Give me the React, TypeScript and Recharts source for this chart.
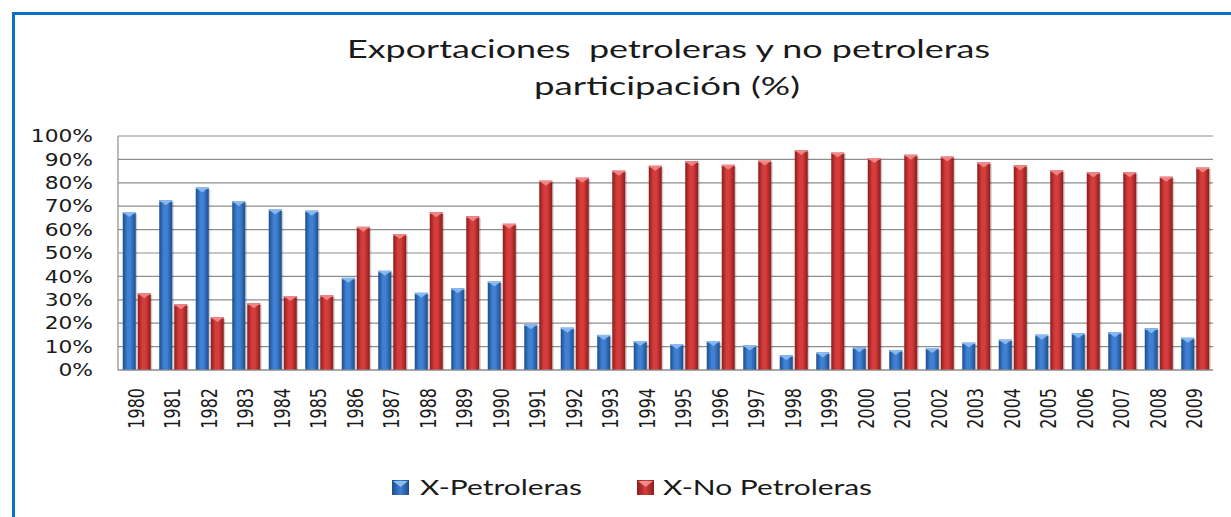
import { BarChart, Bar, XAxis, YAxis, CartesianGrid } from "recharts";

const years = [
  "1980", "1981", "1982", "1983", "1984", "1985", "1986", "1987", "1988", "1989",
  "1990", "1991", "1992", "1993", "1994", "1995", "1996", "1997", "1998", "1999",
  "2000", "2001", "2002", "2003", "2004", "2005", "2006", "2007", "2008", "2009",
];

const petroleras = [
  67.5, 72.5, 78, 72.2, 68.6, 68.1, 39.4, 42.4, 33, 34.9,
  37.8, 19.5, 18.1, 15, 12.4, 11.1, 12.4, 10.5, 6.3, 7.5,
  9.7, 8.5, 9.4, 11.7, 13, 15.1, 15.7, 16.1, 17.8, 13.8,
];

const noPetroleras = [
  32.8, 28.1, 22.6, 28.5, 31.6, 31.9, 61.2, 58.1, 67.4, 65.7,
  62.5, 80.9, 82.2, 85.2, 87.3, 89.2, 87.7, 89.5, 94, 92.9,
  90.6, 92, 91.2, 88.7, 87.5, 85.3, 84.5, 84.5, 82.6, 86.5,
];

const yTicks = [0, 10, 20, 30, 40, 50, 60, 70, 80, 90, 100];

const titleLines = ["Exportaciones  petroleras y no petroleras", "participación (%)"];
const seriesNames = ["X-Petroleras", "X-No Petroleras"];

const data = years.map((year, i) => ({
  year,
  pet: petroleras[i],
  noPet: noPetroleras[i],
}));

const W = 1231;
const H = 517;
const STRETCH = 1.28; // the reference is drawn wider than tall

const palette = {
  blue: { dark: "#1d4c8c", mid: "#3f80d2", cap: "#8cbdf2" },
  red: { dark: "#8c1c1c", mid: "#d53c3c", cap: "#f28a8a" },
};

function Bar3D(props: any) {
  const { x, y, width, height, kind } = props;
  if (!height || height <= 0) return null;
  const c = palette[kind as "blue" | "red"];
  return (
    <g>
      <rect x={x + 1.5} y={y + 1.5} width={width} height={height - 1.5} fill="#000" opacity={0.18} />
      <rect x={x} y={y} width={width} height={height} fill={`url(#grad-${kind})`} />
      <rect x={x} y={y} width={width} height={1.5} fill={c.cap} />
      <polygon
        points={`${x + 1},${y + 1} ${x + width - 1},${y + 1} ${x + width / 2},${y + 5}`}
        fill={c.cap}
        opacity={0.9}
      />
    </g>
  );
}

function YTick(props: any) {
  const { x, y, payload } = props;
  return (
    <g transform={`translate(${x},${y}) scale(${STRETCH},1)`}>
      <text x={0} y={0} dy="0.36em" textAnchor="end" fontSize={17} fill="#1a1a1a" fontFamily="DejaVu Sans">
        {`${payload.value}%`}
      </text>
    </g>
  );
}

function XTick(props: any) {
  const { x, y, payload } = props;
  return (
    <g transform={`translate(${x},${y}) scale(${STRETCH},1) rotate(-90)`}>
      <text x={0} y={0} dy="0.36em" textAnchor="end" fontSize={16} fill="#1a1a1a" fontFamily="DejaVu Sans">
        {payload.value}
      </text>
    </g>
  );
}

export default function App() {
  return (
    <div style={{ position: "fixed", left: 0, top: 0, width: W, height: H, background: "#fff", overflow: "hidden" }}>
      {/* blue frame, open on the right and bottom */}
      <div style={{ position: "absolute", left: 12, top: 12, width: 3, height: H - 12, background: "#0b6fc6" }} />
      <div style={{ position: "absolute", left: 12, top: 12, width: W - 12, height: 3, background: "#0b6fc6" }} />

      <div style={{ position: "absolute", left: 0, top: 0 }}>
        <BarChart
          width={W}
          height={H}
          data={data}
          margin={{ top: 136, right: 18, bottom: 0, left: 0 }}
          barCategoryGap={4.75}
          barGap={2}
        >
          <defs>
            {(["blue", "red"] as const).map((k) => (
              <linearGradient key={k} id={`grad-${k}`} x1="0" y1="0" x2="1" y2="0">
                <stop offset="0%" stopColor={palette[k].dark} />
                <stop offset="35%" stopColor={palette[k].mid} />
                <stop offset="60%" stopColor={palette[k].mid} />
                <stop offset="100%" stopColor={palette[k].dark} />
              </linearGradient>
            ))}
          </defs>
          <CartesianGrid vertical={false} stroke="#8e8e8e" strokeWidth={1.2} />
          <XAxis
            dataKey="year"
            interval={0}
            height={147}
            tickLine={false}
            tickSize={0}
            tickMargin={18}
            axisLine={{ stroke: "#8e8e8e", strokeWidth: 1.2 }}
            tick={<XTick />}
          />
          <YAxis
            domain={[0, 100]}
            ticks={yTicks}
            width={118}
            tickLine={false}
            tickSize={0}
            tickMargin={25}
            axisLine={{ stroke: "#8e8e8e", strokeWidth: 1.2 }}
            tick={<YTick />}
          />
          <Bar dataKey="pet" name={seriesNames[0]} isAnimationActive={false} shape={(p: any) => <Bar3D {...p} kind="blue" />} />
          <Bar dataKey="noPet" name={seriesNames[1]} isAnimationActive={false} shape={(p: any) => <Bar3D {...p} kind="red" />} />
        </BarChart>
      </div>

      {/* title and legend */}
      <svg width={W} height={H} style={{ position: "absolute", left: 0, top: 0, pointerEvents: "none" }}>
        <defs>
          {(["blue", "red"] as const).map((k) => (
            <linearGradient key={k} id={`leg-${k}`} x1="0" y1="0" x2="1" y2="0">
              <stop offset="0%" stopColor={palette[k].dark} />
              <stop offset="50%" stopColor={palette[k].mid} />
              <stop offset="100%" stopColor={palette[k].dark} />
            </linearGradient>
          ))}
        </defs>
        <text x={347} y={58} fontSize={25} fontFamily="Lato" fill="#1a1a1a" textLength={643} lengthAdjust="spacingAndGlyphs" style={{ whiteSpace: "pre" }}>
          {titleLines[0]}
        </text>
        <text x={534} y={95} fontSize={25} fontFamily="Lato" fill="#1a1a1a" textLength={266} lengthAdjust="spacingAndGlyphs">
          {titleLines[1]}
        </text>

        <rect x={392} y={480} width={17} height={15} fill="url(#leg-blue)" />
        <polygon points="393,481 408,481 400.5,487" fill={palette.blue.cap} />
        <text x={420} y={495} fontSize={21} fontFamily="Lato" fill="#1a1a1a" textLength={162} lengthAdjust="spacingAndGlyphs">
          {seriesNames[0]}
        </text>

        <rect x={637} y={480} width={17} height={15} fill="url(#leg-red)" />
        <polygon points="638,481 653,481 645.5,487" fill={palette.red.cap} />
        <text x={663} y={495} fontSize={21} fontFamily="Lato" fill="#1a1a1a" textLength={209} lengthAdjust="spacingAndGlyphs">
          {seriesNames[1]}
        </text>
      </svg>
    </div>
  );
}
